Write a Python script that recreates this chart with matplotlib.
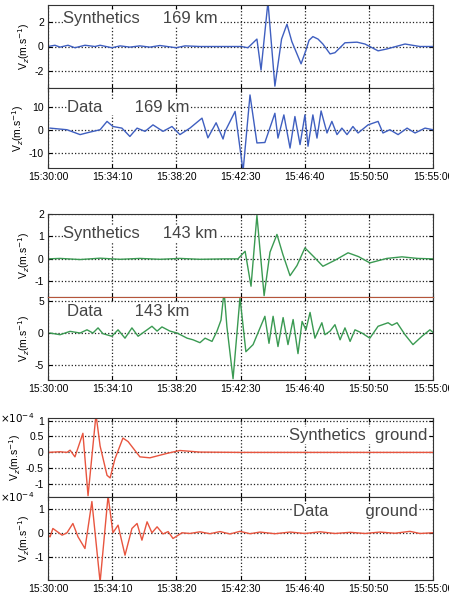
import matplotlib
matplotlib.use("Agg")
import matplotlib.pyplot as plt
from matplotlib.ticker import FixedLocator, FuncFormatter

plt.rcParams['font.family'] = ['Liberation Sans', 'DejaVu Sans']
plt.rcParams['axes.unicode_minus'] = False

# time in seconds after 15:30:00
tick_secs = [0, 250, 500, 750, 1000, 1250, 1500]
tick_labels = ["15:30:00", "15:34:10", "15:38:20", "15:42:30", "15:46:40", "15:50:50", "15:55:00"]

# Synthetics 169 km (m/s)
t_syn169 = [0, 27, 47, 78, 105, 144, 183, 203, 249, 281, 319, 358, 397, 436, 499, 534, 592,
            752, 779, 814, 830, 857, 884, 910, 931, 950, 986, 1005, 1017, 1032, 1052, 1071, 1099,
            1118, 1157, 1204, 1235, 1286, 1320, 1391, 1449, 1500]
v_syn169 = [0, 0.1, -0.05, 0.1, -0.1, 0.1, 0, 0.1, -0.1, 0.05, -0.05, 0.05, -0.05, 0.08, -0.1, 0.05, 0,
            0, -0.1, 0.6, -1.9, 3.6, -3.2, 0.6, 1.8, 0.4, -1.4, -0.3, 0.5, 0.8, 0.6, 0.2, -0.6,
            -0.5, 0.3, 0.35, 0.2, -0.35, -0.2, 0.2, 0, 0]

# Data 169 km
t_dat169 = [8, 74, 125, 164, 203, 230, 253, 288, 319, 347, 378, 409, 448, 483, 514, 553, 600, 623,
            655, 682, 690, 729, 760, 787, 814, 845, 884, 896, 919, 943, 962, 982, 1001, 1013, 1032,
            1048, 1064, 1087, 1106, 1126, 1145, 1165, 1188, 1208, 1247, 1286, 1305, 1332, 1364,
            1399, 1430, 1469, 1500]
v_dat169 = [0.7, 0, -2.1, -1, 0, 3.6, 1.4, 0.7, -2.9, 0.7, -0.7, 2.1, -0.7, 1.4, -2.1, 0.7, 5, -3.5,
            3, -4, -0.7, 7.9, -17.9, 15, -5.7, -5.5, 7.1, -3.6, 6.4, -7.9, 5.7, -6.4, 6.4, -7.1, 6.4,
            -3.6, 8.1, -1.4, 3.6, -2.1, 0.7, -2.1, 1.4, -1.4, 2.1, 3.6, -1.4, 0, -2.1,
            0.7, -1.4, 0.7, 0]

# Synthetics 143 km
t_syn143 = [0, 47, 125, 203, 281, 358, 436, 514, 592, 690, 740, 768, 791, 814, 842, 865, 892, 915,
            943, 970, 1001, 1035, 1071, 1120, 1169, 1210, 1254, 1320, 1379, 1440, 1500]
v_syn143 = [0, 0.02, -0.03, 0.03, -0.02, 0.02, -0.02, 0.02, -0.02, 0, 0, 0.34, -1.22, 1.94, -1.64,
            0.3, 1.09, 0.2, -0.75, -0.3, 0.49, 0.1, -0.33, -0.05, 0.27, 0.1, -0.18, 0.02, 0.09, 0.02, 0]

# Data 143 km
t_dat143 = [8, 47, 86, 125, 152, 175, 195, 214, 249, 273, 300, 327, 351, 386, 405, 425, 444, 475,
            503, 542, 565, 592, 612, 639, 658, 674, 686, 697, 721, 748, 771, 799, 845, 861, 877,
            896, 916, 935, 955, 974, 990, 1005, 1021, 1040, 1067, 1079, 1099, 1118, 1138, 1157,
            1177, 1196, 1223, 1254, 1286, 1325, 1340, 1360, 1391, 1422, 1457, 1488, 1500]
v_dat143 = [0, -0.26, 0.26, 0, 0.5, 0, 0.8, -0.1, -0.5, 0.5, -0.8, 0.8, -0.5, 0.5, 1.05, 0.3, 0.95, 0.3,
            0, -0.8, -1.05, -1.5, -0.8, -1.3, 0.26, 2, 6.5, 1, -7.1, 5.5, -2.9, -1.8, 2.6, -1.6, 2.6,
            -2.1, 2.4, -1.8, 2.1, -3.2, 1.8, 0.5, 3.2, -0.8, 1.6, -0.26, 0.3, 1.3, -1.05, 0.8,
            -1.3, 0.5, 0, -0.8, 1.05, 1.6, 1.2, 1.6, -0.26, -1.8, -0.5, 0.5, 0.1]

# Synthetics ground (x 1e-4 m/s)
t_synG = [0, 47, 74, 86, 105, 136, 156, 187, 203, 230, 242, 261, 292, 312, 358, 397, 464, 514,
          592, 748, 982, 1500]
v_synG = [0, 0.02, 0, 0.07, -0.14, 0.6, -1.36, 1.19, 0.2, -0.72, -0.8, -0.2, 0.45, 0.34, -0.14,
          -0.17, -0.03, 0.06, 0.01, 0, 0, 0]

# Data ground (x 1e-4 m/s)
t_datG = [0, 8, 19, 55, 74, 97, 117, 144, 171, 203, 234, 253, 273, 300, 327, 347, 366, 386, 405,
          425, 448, 468, 487, 522, 553, 592, 631, 670, 709, 748, 787, 826, 884, 943, 1001, 1060,
          1118, 1177, 1235, 1293, 1352, 1410, 1449, 1500]
v_datG = [-0.1, -0.17, 0.18, -0.1, 0, 0.39, -0.17, -0.66, 1.31, -2.07, 1.55, 0, 0.32, -0.94, 0.18,
          0.39, -0.31, 0.46, 0, 0.25, -0.05, 0.05, -0.24, 0, -0.03, 0.04, -0.04, 0.05, -0.05, 0.06,
          -0.04, 0.03, -0.04, 0.03, -0.03, 0.04, -0.03, 0.02, -0.03, 0.03, -0.02, 0.06, -0.03, 0]

blue = '#3f5fc0'
green = '#3a9a52'
red = '#e8553f'

W, H = 449, 601
fig = plt.figure(figsize=(W / 100, H / 100), dpi=100)


def panel(top, bottom, t, v, color, ylim, yticks, bottom_labels=True):
    ax = fig.add_axes([48 / W, 1 - bottom / H, 385 / W, (bottom - top) / H])
    ax.plot(t, v, color=color, lw=1.0)
    ax.set_xlim(0, 1500)
    ax.set_ylim(*ylim)
    ax.xaxis.set_major_locator(FixedLocator(tick_secs))
    ax.set_xticklabels(tick_labels)
    ax.yaxis.set_major_locator(FixedLocator(yticks))
    ax.yaxis.set_major_formatter(FuncFormatter(lambda y, p: '%g' % y))
    ax.grid(True, ls=':', color='#222222', lw=0.9)
    ax.tick_params(direction='in', top=True, right=True, length=3, labelsize=7.5, pad=3,
                   labelbottom=bottom_labels)
    ax.set_ylabel(r'V$_z$(m.s$^{-1}$)', fontsize=7.5, labelpad=2)
    for s in ax.spines.values():
        s.set_color('#333333')
    return ax


def label(ax, x, y, s, ha='left'):
    ax.text(x, y, s, transform=ax.transAxes, fontsize=12, ha=ha, va='center', color='#444444',
            bbox=dict(facecolor='white', edgecolor='none', pad=0.5))


ax1 = panel(5, 88, t_syn169, v_syn169, blue, (-3.35, 3.35), [-2, 0, 2], False)
label(ax1, 0.04, 0.84, "Synthetics     169 km")

ax2 = panel(88, 168, t_dat169, v_dat169, blue, (-16.5, 18), [-10, 0, 10])
label(ax2, 0.05, 0.76, "Data       169 km")

ax3 = panel(214, 297, t_syn143, v_syn143, green, (-1.7, 2.0), [-1, 0, 1, 2], False)
label(ax3, 0.04, 0.76, "Synthetics     143 km")

ax4 = panel(297, 380, t_dat143, v_dat143, green, (-7.3, 5.6), [-5, 0, 5])
ax4.spines['top'].set_color('#b5553a')
label(ax4, 0.05, 0.83, "Data       143 km")

ax5 = panel(418, 497, t_synG, v_synG, red, (-1.4, 1.08), [-1, -0.5, 0, 0.5, 1], False)
label(ax5, 0.985, 0.78, "Synthetics  ground", ha='right')

ax6 = panel(497, 580, t_datG, v_datG, red, (-1.98, 1.5), [-1, 0, 1])
label(ax6, 0.96, 0.82, "Data        ground", ha='right')

for ax in (ax5, ax6):
    ax.text(-0.125, 1.0, r'$\times10^{-4}$', transform=ax.transAxes, fontsize=7.5,
            ha='left', va='center')

fig.savefig("out.png", dpi=100)
